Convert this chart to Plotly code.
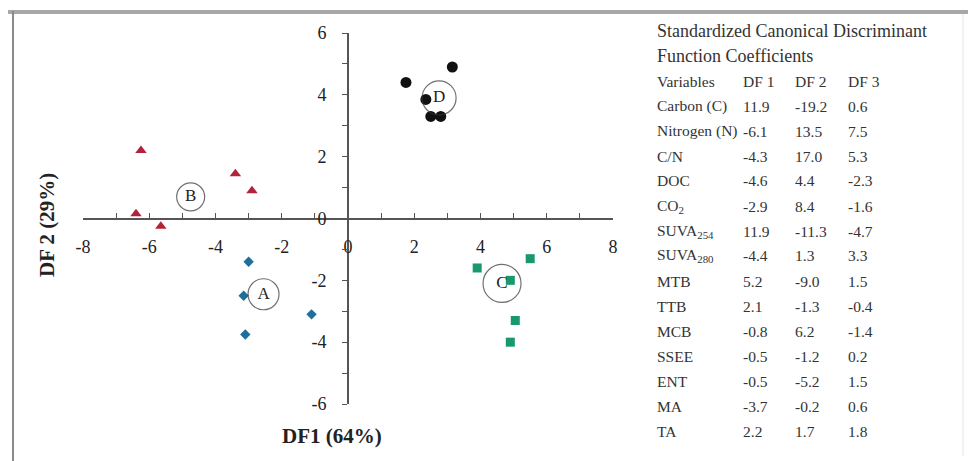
import plotly.graph_objects as go

# ---------------- data ----------------
a_x = [-3.0, -3.15, -3.1, -1.1]
a_y = [-1.4, -2.5, -3.75, -3.1]
b_x = [-6.25, -3.4, -2.9, -6.4, -5.65]
b_y = [2.2, 1.45, 0.9, 0.15, -0.25]
c_x = [3.9, 5.5, 4.9, 5.05, 4.9]
c_y = [-1.6, -1.3, -2.0, -3.3, -4.0]
d_x = [1.75, 3.15, 2.35, 2.5, 2.8]
d_y = [4.4, 4.9, 3.85, 3.3, 3.3]

group_labels = ["A", "B", "C", "D"]
label_x = [-2.55, -4.75, 4.65, 2.75]
label_y = [-2.45, 0.7, -2.1, 3.9]

x_ticks = [-8, -6, -4, -2, 0, 2, 4, 6, 8]
x_ticktext = ["-8", "-6", "-4", "-2", "0", "2", "4", "6", "8"]
y_ticks = [-6, -4, -2, 0, 2, 4, 6]
y_ticktext = ["-6", "-4", "-2", "0", "2", "4", "6"]

x_title = "DF1 (64%)"
y_title = "DF 2 (29%)"

table_title = ["Standardized Canonical Discriminant", "Function Coefficients"]
table_header = ["Variables", "DF 1", "DF 2", "DF 3"]
variables = ["Carbon (C)", "Nitrogen (N)", "C/N", "DOC", "CO<sub>2</sub>",
             "SUVA<sub>254</sub>", "SUVA<sub>280</sub>", "MTB", "TTB", "MCB",
             "SSEE", "ENT", "MA", "TA"]
df1 = [11.9, -6.1, -4.3, -4.6, -2.9, 11.9, -4.4, 5.2, 2.1, -0.8, -0.5, -0.5, -3.7, 2.2]
df2 = [-19.2, 13.5, 17.0, 4.4, 8.4, -11.3, 1.3, -9.0, -1.3, 6.2, -1.2, -5.2, -0.2, 1.7]
df3 = [0.6, 7.5, 5.3, -2.3, -1.6, -4.7, 3.3, 1.5, -0.4, -1.4, 0.2, 1.5, 0.6, 1.8]

# ---------------- layout geometry ----------------
W, H = 968, 461
L, R, T, B = 83, 355, 33, 57
PW, PH = W - L - R, H - T - B

def px(xp):
    return (xp - L) / PW

def py(yp):
    return (H - B - yp) / PH

SERIF = "Liberation Serif, Times New Roman, serif"

fig = go.Figure()
fig.add_trace(go.Scatter(x=a_x, y=a_y, mode="markers",
                         marker=dict(symbol="diamond", size=8, color="#1f6e9c")))
fig.add_trace(go.Scatter(x=b_x, y=b_y, mode="markers",
                         marker=dict(symbol="triangle-up", size=10, color="#b3223a")))
fig.add_trace(go.Scatter(x=c_x, y=c_y, mode="markers",
                         marker=dict(symbol="square", size=9, color="#17996b")))
fig.add_trace(go.Scatter(x=d_x, y=d_y, mode="markers",
                         marker=dict(symbol="circle", size=11, color="#111111")))
fig.add_trace(go.Scatter(x=label_x, y=label_y, mode="markers+text",
                         text=group_labels, textposition="middle center",
                         textfont=dict(family=SERIF, size=17, color="#222"),
                         marker=dict(symbol="circle-open", size=[31, 28, 38, 34],
                                     color="#333", line=dict(width=1.2))))

axis_common = dict(showgrid=False, zeroline=False, showline=True,
                   linecolor="#555", linewidth=1.6, tickcolor="#555",
                   tickwidth=1.4, ticklen=5, anchor="free", position=0.5,
                   tickfont=dict(family=SERIF, size=18, color="#222"),
                   tickmode="array")
fig.update_layout(
    width=W, height=H,
    margin=dict(l=L, r=R, t=T, b=B, pad=0),
    paper_bgcolor="white", plot_bgcolor="white",
    showlegend=False,
    xaxis=dict(range=[-8, 8], tickvals=x_ticks, ticktext=x_ticktext,
               ticks="inside", ticklabelstandoff=12,
               minor=dict(dtick=1, tick0=0, ticks="inside", ticklen=5,
                          tickcolor="#555", tickwidth=1.4),
               **axis_common),
    yaxis=dict(range=[-6, 6], tickvals=y_ticks, ticktext=y_ticktext,
               ticks="outside", ticklabelstandoff=12,
               minor=dict(dtick=1, tick0=0, ticks="outside", ticklen=5,
                          tickcolor="#555", tickwidth=1.4),
               **axis_common),
)

ann = []
ann.append(dict(text="<b>" + x_title + "</b>", x=px(332), y=py(436),
                font=dict(family=SERIF, size=21, color="#222")))
ann.append(dict(text="<b>" + y_title + "</b>", x=px(47), y=py(225), textangle=-90,
                font=dict(family=SERIF, size=21, color="#222")))

TITLE_FONT = dict(family=SERIF, size=18, color="#333")
TFONT = dict(family=SERIF, size=15.5, color="#333")
col_x = [655, 741, 793, 846]
row0, dy = 31, 25
for i, line in enumerate(table_title):
    ann.append(dict(text=line, x=px(col_x[0]), y=py(row0 + dy * i),
                    xanchor="left", font=TITLE_FONT))
rows = [table_header]
for v, a, b, c in zip(variables, df1, df2, df3):
    rows.append([v, f"{a:.1f}", f"{b:.1f}", f"{c:.1f}"])
for i, row in enumerate(rows):
    for j, cell in enumerate(row):
        ann.append(dict(text=cell, x=px(col_x[j]), y=py(row0 + dy * (i + 2)),
                        xanchor="left", font=TFONT))
for a in ann:
    a.update(xref="paper", yref="paper", showarrow=False,
             yanchor=a.get("yanchor", "middle"), xanchor=a.get("xanchor", "center"))
fig.update_layout(annotations=ann)

# decorative frame
fig.add_shape(type="line", xref="paper", yref="paper", x0=px(8), x1=px(968),
              y0=py(12), y1=py(12), line=dict(color="#a8a8a8", width=4))
fig.add_shape(type="line", xref="paper", yref="paper", x0=px(13), x1=px(13),
              y0=py(11), y1=py(461), line=dict(color="#8a8a8a", width=2))
fig.add_shape(type="line", xref="paper", yref="paper", x0=px(963), x1=px(963),
              y0=py(14), y1=py(456), line=dict(color="#e4e4e4", width=1))

fig.write_html("out.html")
